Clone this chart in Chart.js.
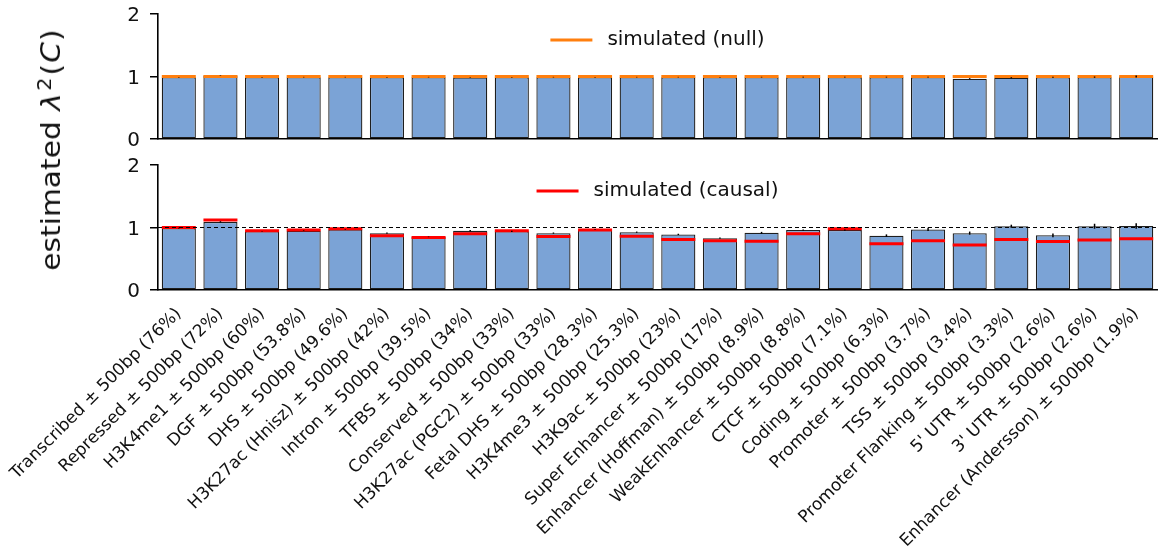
<!DOCTYPE html>
<html>
<head>
<meta charset="utf-8">
<script src="https://cdn.jsdelivr.net/npm/chart.js@4.4.0/dist/chart.umd.min.js"></script>
<style>
  html, body { margin: 0; padding: 0; background: #fff; }
  #wrap { position: relative; width: 1159px; height: 554px; overflow: hidden; font-family: "DejaVu Sans", sans-serif; }
  #wrap canvas { position: absolute; left: 0; }
  #ylab {
    position: absolute; left: 51px; top: 150px;
    transform: translate(-50%, -50%) rotate(-90deg) scale(1.1, 1);
    font-size: 27px; line-height: 32px; white-space: nowrap; color: #111;
  }
  #ylab i { padding: 0 1px; }
  #ylab sup { font-size: 0.7em; line-height: 0; vertical-align: 0.5em; margin: 0 2px 0 1px; }
</style>
</head>
<body>
<div id="wrap">
  <canvas id="nullPanel" width="1159" height="152" style="top:0"></canvas>
  <canvas id="causalPanel" width="1159" height="404" style="top:150px"></canvas>
  <div id="ylab">estimated <i>λ</i><sup>2</sup>(<i>C</i>)</div>
</div>
<script>
// Functional annotation categories (share of genome in brackets)
const categories = [
  "Transcribed ± 500bp (76%)",
  "Repressed ± 500bp (72%)",
  "H3K4me1 ± 500bp (60%)",
  "DGF ± 500bp (53.8%)",
  "DHS ± 500bp (49.6%)",
  "H3K27ac (Hnisz) ± 500bp (42%)",
  "Intron ± 500bp (39.5%)",
  "TFBS ± 500bp (34%)",
  "Conserved ± 500bp (33%)",
  "H3K27ac (PGC2) ± 500bp (33%)",
  "Fetal DHS ± 500bp (28.3%)",
  "H3K4me3 ± 500bp (25.3%)",
  "H3K9ac ± 500bp (23%)",
  "Super Enhancer ± 500bp (17%)",
  "Enhancer (Hoffman) ± 500bp (8.9%)",
  "WeakEnhancer ± 500bp (8.8%)",
  "CTCF ± 500bp (7.1%)",
  "Coding ± 500bp (6.3%)",
  "Promoter ± 500bp (3.7%)",
  "TSS ± 500bp (3.4%)",
  "Promoter Flanking ± 500bp (3.3%)",
  "5' UTR ± 500bp (2.6%)",
  "3' UTR ± 500bp (2.6%)",
  "Enhancer (Andersson) ± 500bp (1.9%)"
];

// Null simulation: estimated lambda^2(C), its standard error, and the simulated value
const nullEstimate = [0.99, 1.015, 0.99, 0.99, 0.99, 0.99, 0.99, 0.985, 0.99, 0.99, 0.99, 0.99,
                      0.99, 0.99, 0.99, 0.99, 0.99, 0.99, 0.99, 0.965, 0.98, 0.99, 0.99, 1.0];
const nullError    = [0.004, 0.004, 0.004, 0.004, 0.004, 0.004, 0.004, 0.004, 0.004, 0.004, 0.004, 0.004,
                      0.004, 0.004, 0.005, 0.005, 0.005, 0.006, 0.006, 0.008, 0.008, 0.008, 0.01, 0.015];
const nullSimulated = [1.0, 1.0, 1.0, 1.0, 1.0, 1.0, 1.0, 1.0, 1.0, 1.0, 1.0, 1.0,
                       1.0, 1.0, 1.0, 1.0, 1.0, 1.0, 1.0, 1.0, 1.0, 1.0, 1.0, 1.0];

// Causal simulation
const causalEstimate = [0.99, 1.09, 0.94, 0.95, 0.97, 0.91, 0.85, 0.95, 0.94, 0.91, 0.97, 0.925,
                        0.89, 0.83, 0.915, 0.96, 0.96, 0.87, 0.97, 0.91, 1.02, 0.875, 1.02, 1.025];
const causalError    = [0.005, 0.01, 0.005, 0.005, 0.005, 0.01, 0.005, 0.01, 0.01, 0.01, 0.005, 0.01,
                        0.01, 0.01, 0.015, 0.01, 0.01, 0.02, 0.025, 0.025, 0.025, 0.03, 0.04, 0.045];
const causalSimulated = [1.0, 1.12, 0.95, 0.96, 0.98, 0.87, 0.84, 0.90, 0.95, 0.855, 0.96, 0.86,
                         0.81, 0.79, 0.78, 0.90, 0.98, 0.74, 0.79, 0.72, 0.81, 0.775, 0.80, 0.82];

const yTicks = [0, 1, 2];
const referenceLevel = 1;

const FONT = '"DejaVu Sans", sans-serif';
const INK = '#111';
const BAR_FILL = '#7ba3d6';

// Vertical error bars drawn through the centre of each bar
const errorBars = {
  id: 'errorBars',
  afterDatasetsDraw(chart, args, opts) {
    if (!opts.errors) return;
    const meta = chart.getDatasetMeta(opts.datasetIndex);
    const values = chart.data.datasets[opts.datasetIndex].data;
    const y = chart.scales.y;
    const ctx = chart.ctx;
    ctx.save();
    ctx.strokeStyle = opts.color;
    ctx.lineWidth = opts.width;
    meta.data.forEach((bar, i) => {
      ctx.beginPath();
      ctx.moveTo(bar.x, y.getPixelForValue(values[i] - opts.errors[i]));
      ctx.lineTo(bar.x, y.getPixelForValue(values[i] + opts.errors[i]));
      ctx.stroke();
    });
    ctx.restore();
  }
};

// Dashed horizontal reference line across the plot
const refLine = {
  id: 'refLine',
  afterDatasetsDraw(chart, args, opts) {
    if (opts.value === undefined) return;
    const area = chart.chartArea;
    const py = chart.scales.y.getPixelForValue(opts.value);
    const ctx = chart.ctx;
    ctx.save();
    ctx.strokeStyle = '#000';
    ctx.lineWidth = 1;
    ctx.setLineDash([4, 3]);
    ctx.beginPath();
    ctx.moveTo(area.left, py);
    ctx.lineTo(area.right, py);
    ctx.stroke();
    ctx.restore();
  }
};

// Single-entry legend centred near the top of the plot area
const lineLegend = {
  id: 'lineLegend',
  afterDraw(chart, args, opts) {
    if (opts.datasetIndex === undefined) return;
    const ds = chart.data.datasets[opts.datasetIndex];
    const area = chart.chartArea;
    const ctx = chart.ctx;
    ctx.save();
    ctx.font = opts.fontSize + 'px ' + FONT;
    const tw = ctx.measureText(ds.label).width;
    const total = opts.lineLength + opts.gap + tw;
    const x0 = (area.left + area.right) / 2 - total / 2;
    const y = area.top + opts.offsetY;
    ctx.strokeStyle = ds.pointBorderColor;
    ctx.lineWidth = opts.lineWidth;
    ctx.beginPath();
    ctx.moveTo(x0, y);
    ctx.lineTo(x0 + opts.lineLength, y);
    ctx.stroke();
    ctx.fillStyle = INK;
    ctx.textBaseline = 'middle';
    ctx.textAlign = 'left';
    ctx.fillText(ds.label, x0 + opts.lineLength + opts.gap, y);
    ctx.restore();
  }
};

function buildPanel(canvasId, cfg) {
  const canvas = document.getElementById(canvasId);
  return new Chart(canvas, {
    type: 'bar',
    data: {
      labels: categories,
      datasets: [
        {
          type: 'line',
          label: cfg.simLabel,
          data: cfg.simulated,
          showLine: false,
          pointStyle: 'line',
          pointRadius: 17,
          pointHoverRadius: 17,
          pointBorderWidth: 3,
          pointHoverBorderWidth: 3,
          pointBorderColor: cfg.simColor,
          pointBackgroundColor: cfg.simColor,
          borderColor: cfg.simColor,
          order: 0
        },
        {
          type: 'bar',
          label: 'estimate',
          data: cfg.estimate,
          backgroundColor: BAR_FILL,
          borderColor: '#1e1e1e',
          borderWidth: 1.3,
          borderSkipped: false,
          barPercentage: 0.82,
          categoryPercentage: 1.0,
          order: 1
        }
      ]
    },
    options: {
      responsive: false,
      animation: false,
      devicePixelRatio: 1,
      events: [],
      layout: { autoPadding: false, padding: { top: cfg.padTop, right: 2, left: 0, bottom: 0 } },
      plugins: {
        legend: { display: false },
        tooltip: { enabled: false },
        errorBars: { datasetIndex: 1, errors: cfg.errors, color: '#000', width: 1.5 },
        refLine: { value: cfg.refValue },
        lineLegend: { datasetIndex: 0, fontSize: 20, lineLength: 42, gap: 15, lineWidth: 3, offsetY: 26 }
      },
      scales: {
        x: {
          type: 'category',
          offset: true,
          grid: { display: false },
          border: { display: true, color: '#000', width: 1.6 },
          ticks: {
            display: cfg.showLabels,
            autoSkip: false,
            minRotation: 45,
            maxRotation: 45,
            padding: 6,
            color: INK,
            font: { family: FONT, size: 17 }
          },
          afterFit(scale) { scale.height = cfg.xAxisHeight; }
        },
        y: {
          min: 0,
          max: 2,
          afterBuildTicks(scale) { scale.ticks = yTicks.map(v => ({ value: v })); },
          grid: { display: true, drawOnChartArea: false, drawTicks: true, tickLength: 8, color: '#000', lineWidth: 1.5 },
          border: { display: true, color: '#000', width: 1.6 },
          ticks: {
            color: INK,
            padding: 10,
            labelOffset: 2,
            font: { family: FONT, size: 20 }
          },
          afterFit(scale) {
            scale.width = 158;
            scale.paddingTop = 0;
            scale.paddingBottom = 0;
          }
        }
      }
    },
    plugins: [errorBars, refLine, lineLegend]
  });
}

buildPanel('nullPanel', {
  estimate: nullEstimate,
  errors: nullError,
  simulated: nullSimulated,
  simLabel: 'simulated (null)',
  simColor: '#ff7f0e',
  showLabels: false,
  padTop: 14,
  xAxisHeight: 13,
  refValue: undefined
});

buildPanel('causalPanel', {
  estimate: causalEstimate,
  errors: causalError,
  simulated: causalSimulated,
  simLabel: 'simulated (causal)',
  simColor: '#ff0000',
  showLabels: true,
  padTop: 15,
  xAxisHeight: 264,
  refValue: referenceLevel
});
</script>
</body>
</html>
